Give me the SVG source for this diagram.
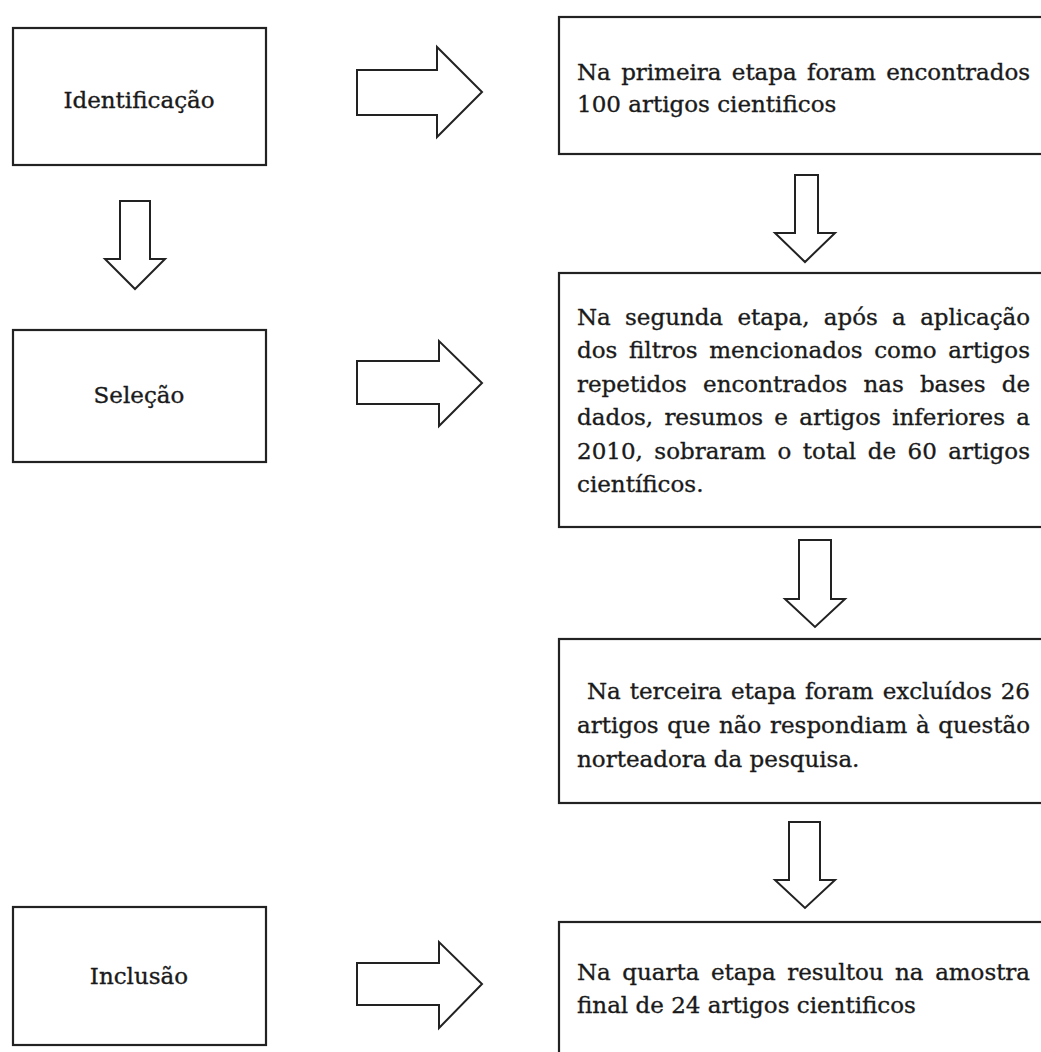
<svg xmlns="http://www.w3.org/2000/svg" width="1041" height="1052" viewBox="0 0 1041 1052">
<style>
.box{fill:#fff;stroke:#222;stroke-width:2.2}
.arr{fill:#fff;stroke:#222;stroke-width:2;stroke-linejoin:miter}
text{font-family:"DejaVu Serif","Liberation Serif",serif;font-size:23px;fill:#1a1a1a;stroke:#1a1a1a;stroke-width:0.35}
.lbl{text-anchor:middle}
</style>
<rect width="1041" height="1052" fill="#fff"/>
<g id="connectors">
<polygon class="arr" points="357,70 437,70 437,47 482,92 437,137 437,115 357,115"/>
<polygon class="arr" points="357,361 439,361 439,341 482,383 439,426 439,404 357,404"/>
<polygon class="arr" points="357,963 439,963 439,942 482,984 439,1028 439,1005 357,1005"/>
<polygon class="arr" points="120,201 150,201 150,259 165,259 135,289 105,259 120,259"/>
<polygon class="arr" points="795,175 818,175 818,233 835,233 805,262 775,233 795,233"/>
<polygon class="arr" points="799,540 831,540 831,599 845,599 815,627 785,599 799,599"/>
<polygon class="arr" points="789,822 820,822 820,880 835,880 805,908 775,880 789,880"/>
</g>
<g id="identificacao">
<rect class="box" x="13" y="28" width="253" height="137"/>
<text class="lbl" x="139" y="108">Identificação</text>
</g>
<g id="selecao">
<rect class="box" x="13" y="330" width="253" height="132"/>
<text class="lbl" x="139" y="403">Seleção</text>
</g>
<g id="inclusao">
<rect class="box" x="13" y="907" width="253" height="138"/>
<text class="lbl" x="139" y="984">Inclusão</text>
</g>
<g id="etapa1">
<rect class="box" x="559" y="17" width="500" height="137"/>
<text x="577" y="80" word-spacing="3.2" textLength="453" lengthAdjust="spacing">Na primeira etapa foram encontrados</text>
<text x="577" y="112">100 artigos cientificos</text>
</g>
<g id="etapa2">
<rect class="box" x="559" y="273" width="500" height="254"/>
<text x="577" y="325" word-spacing="7.1" textLength="453" lengthAdjust="spacing">Na segunda etapa, após a aplicação</text>
<text x="577" y="358" word-spacing="4.3" textLength="453" lengthAdjust="spacing">dos filtros mencionados como artigos</text>
<text x="577" y="392" word-spacing="8.8" textLength="453" lengthAdjust="spacing">repetidos encontrados nas bases de</text>
<text x="577" y="425" word-spacing="4.0" textLength="453" lengthAdjust="spacing">dados, resumos e artigos inferiores a</text>
<text x="577" y="459" word-spacing="4.2" textLength="453" lengthAdjust="spacing">2010, sobraram o total de 60 artigos</text>
<text x="577" y="492">científicos.</text>
</g>
<g id="etapa3">
<rect class="box" x="559" y="639" width="500" height="164"/>
<text x="587" y="699" word-spacing="1.8" textLength="443" lengthAdjust="spacing">Na terceira etapa foram excluídos 26</text>
<text x="577" y="733" word-spacing="1.3" textLength="453" lengthAdjust="spacing">artigos que não respondiam à questão</text>
<text x="577" y="767">norteadora da pesquisa.</text>
</g>
<g id="etapa4">
<rect class="box" x="559" y="922" width="500" height="200"/>
<text x="577" y="980" word-spacing="4.35" textLength="453" lengthAdjust="spacing">Na quarta etapa resultou na amostra</text>
<text x="577" y="1013">final de 24 artigos cientificos</text>
</g>
</svg>
